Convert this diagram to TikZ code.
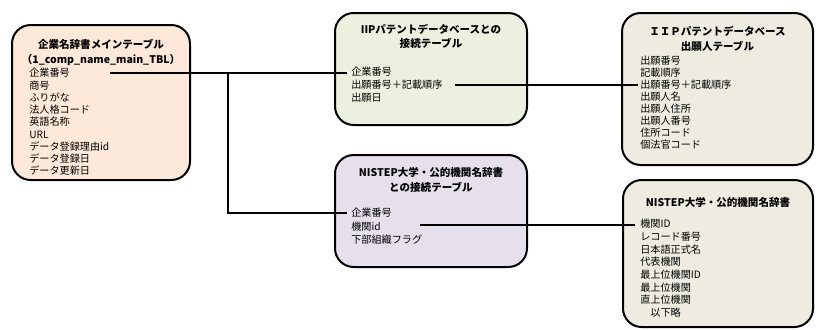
\documentclass[tikz,border=0pt]{standalone}
\usepackage{fontspec}
\setmainfont{Noto Sans CJK JP}
\definecolor{mainfill}{HTML}{FDE9D9}
\definecolor{iipfill}{HTML}{EBF1DE}
\definecolor{dbfill}{HTML}{EEECE1}
\definecolor{nisfill}{HTML}{E5E0EC}
\tikzset{
	tbl/.style      = {draw, line width = 1.5pt, rounded corners = 14pt, inner sep = 0pt},
	tbltitle/.style = {font = \fontsize{7.9}{11}\selectfont\bfseries, align = center, inner sep = 0pt},
	fields/.style   = {font = \fontsize{7.6}{9.2}\selectfont, align = left, anchor = north west, inner sep = 0pt},
	link/.style     = {line width = 0.8pt}
}

\begin{document}
\begin{tikzpicture}[x = 0.75pt, y = -0.75pt]
	\useasboundingbox (0,0) rectangle (816,329);
	\draw
	% Drawing the five tables
	node at (101,102.5) [tbl, fill = mainfill, minimum width = 133.5pt, minimum height = 116.25pt] (main) {}
	node at (431,69) [tbl, fill = iipfill, minimum width = 144pt, minimum height = 84pt] (iip) {}
	node at (717.5,89) [tbl, fill = dbfill, minimum width = 143.25pt, minimum height = 114pt] (app) {}
	node at (431,211) [tbl, fill = nisfill, minimum width = 144pt, minimum height = 84pt] (nis) {}
	node at (718,253.5) [tbl, fill = dbfill, minimum width = 142.5pt, minimum height = 110.25pt] (dict) {}
	;
	
	\draw
	% Titles
	node at (101,52.5) [tbltitle] (maintitle) {企業名辞書メインテーブル\\（1\_comp\_name\_main\_TBL）}
	node at (431,36.5) [tbltitle] (iiptitle) {IIPパテントデータベースとの\\接続テーブル}
	node at (717.5,39) [tbltitle] (apptitle) {ＩＩＰパテントデータベース\\出願人テーブル}
	node at (431,180) [tbltitle] (nistitle) {NISTEP大学・公的機関名辞書\\との接続テーブル}
	node at (718,202) [tbltitle] (dicttitle) {NISTEP大学・公的機関名辞書}
	% Fields
	node at (29,68) [fields] (mainfields) {企業番号\\商号\\ふりがな\\法人格コード\\英語名称\\URL\\データ登録理由id\\データ登録日\\データ更新日}
	node at (351,67) [fields, font = \fontsize{7.6}{9.5}\selectfont] (iipfields) {企業番号\\出願番号＋記載順序\\出願日}
	node at (640,56) [fields, font = \fontsize{7.6}{9}\selectfont] (appfields) {出願番号\\記載順序\\出願番号＋記載順序\\出願人名\\出願人住所\\出願人番号\\住所コード\\個法官コード}
	node at (351,208) [fields, font = \fontsize{7.6}{10}\selectfont] (nisfields) {企業番号\\機関id\\下部組織フラグ}
	node at (640,219) [fields, font = \fontsize{7.6}{9.5}\selectfont] (dictfields) {機関ID\\レコード番号\\日本語正式名\\代表機関\\最上位機関ID\\最上位機関\\直上位機関\\\hspace{1em}以下略};
	
	% Link end points
	\coordinate (mainkey) at (110,73);
	\coordinate (branch) at (228,73);
	\coordinate (iipin) at (347,73);
	\coordinate (iipout) at (455,85);
	\coordinate (appin) at (638,85);
	\coordinate (nisin) at (347,213);
	\coordinate (nisout) at (420,225);
	\coordinate (dictin) at (635,225);
	
	\draw[link] (mainkey) -- (iipin);
	\draw[link] (branch) |- (nisin);
	\draw[link] (iipout) -- (appin);
	\draw[link] (nisout) -- (dictin);
\end{tikzpicture}
\end{document}
